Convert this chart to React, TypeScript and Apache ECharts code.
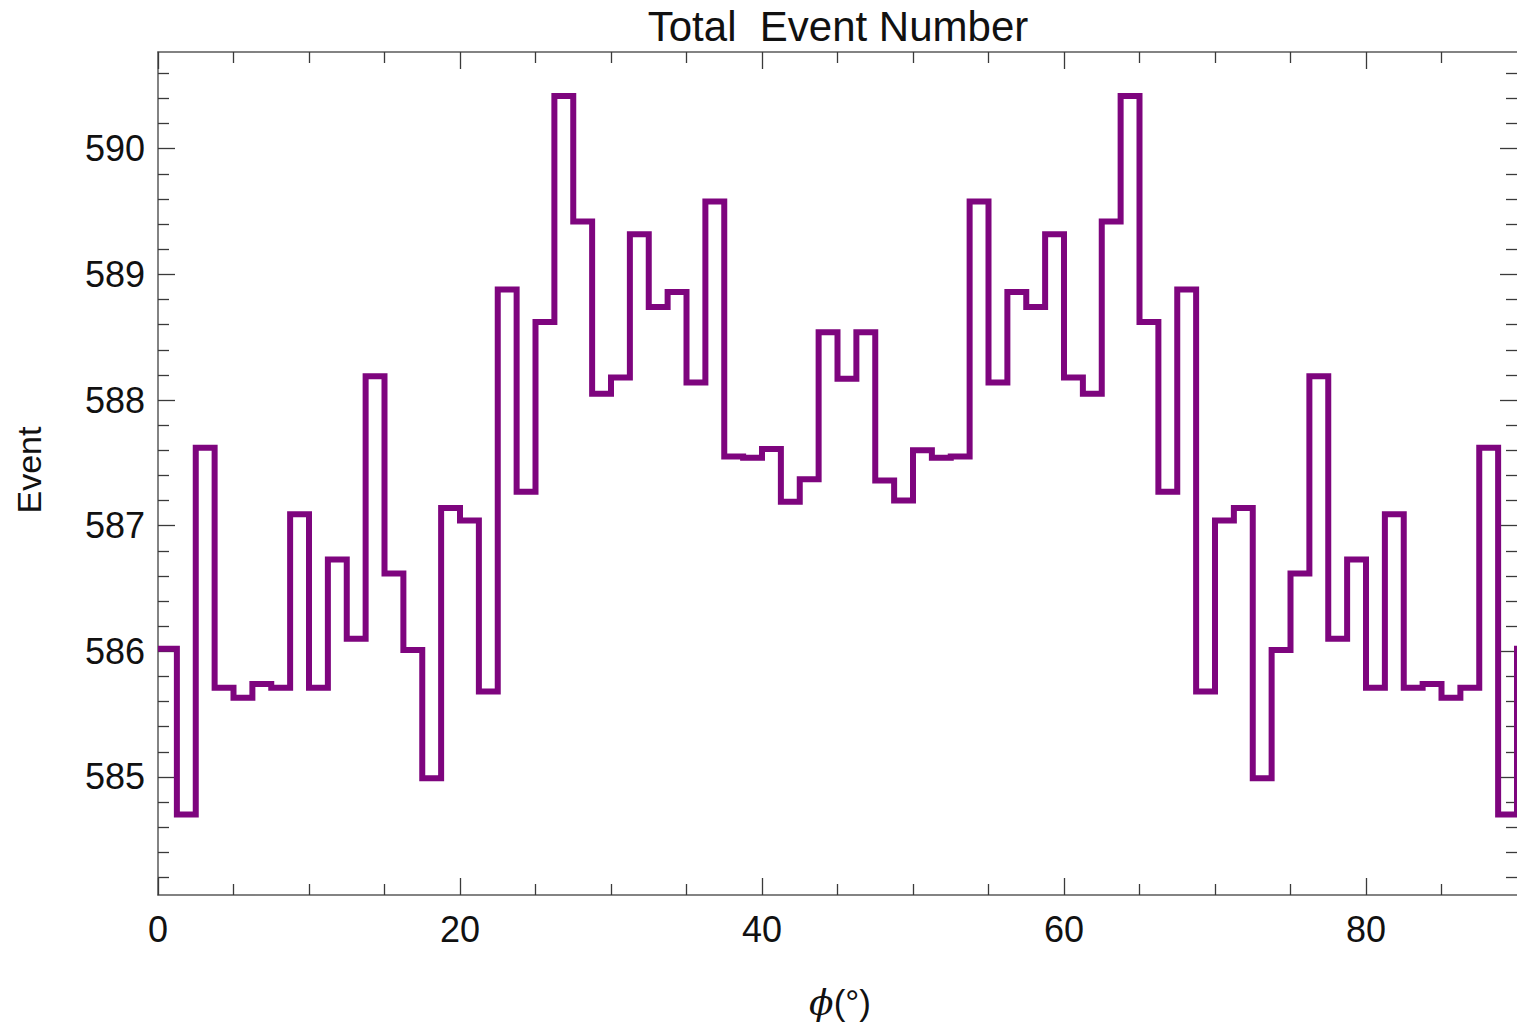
import React, { useEffect, useRef } from "react";
import * as echarts from "echarts";

// Histogram of event counts per phi bin (bin width 1.25 deg, starting at 0)
const binWidth = 1.25;
const binValues = [
  586.02, 584.70, 587.62, 585.71, 585.63, 585.74, 585.71, 587.09, 585.71, 586.73,
  586.10, 588.19, 586.62, 586.01, 584.99, 587.14, 587.04, 585.68, 588.88, 587.27,
  588.62, 590.42, 589.42, 588.05, 588.18, 589.32, 588.74, 588.86, 588.14, 589.58,
  587.55, 587.54, 587.61, 587.19, 587.37, 588.54, 588.17, 588.54, 587.36, 587.20,
  587.60, 587.54, 587.55, 589.58, 588.14, 588.86, 588.74, 589.32, 588.18, 588.05,
  589.42, 590.42, 588.62, 587.27, 588.88, 585.68, 587.04, 587.14, 584.99, 586.01,
  586.62, 588.19, 586.10, 586.73, 585.71, 587.09, 585.71, 585.74, 585.63, 585.71,
  587.62, 584.70,
  // next bin beyond the plot range (clipped, only its rising edge at 90 shows)
  586.02,
];

const xMajorTicks = [0, 20, 40, 60, 80];
const xMinorTicks = [5, 10, 15, 25, 30, 35, 45, 50, 55, 65, 70, 75, 85];
const yMajorTicks = [585, 586, 587, 588, 589, 590];
const yMinorTicks = [
  584.2, 584.4, 584.6, 584.8, 585.2, 585.4, 585.6, 585.8, 586.2, 586.4, 586.6, 586.8,
  587.2, 587.4, 587.6, 587.8, 588.2, 588.4, 588.6, 588.8, 589.2, 589.4, 589.6, 589.8,
  590.2, 590.4, 590.6,
];

const xRange = [0, 90];
const yRange = [584.06, 590.77];

const titleText = "Total  Event Number";
const yTitle = "Event";

const FONT = "'Liberation Sans', Arial, sans-serif";
const PURPLE = "#7e057e";
const FRAME = "#5a5a5a";
const TICK = "#3a3a3a";

function buildStepPoints(): number[][] {
  const pts: number[][] = [];
  binValues.forEach((v, i) => {
    pts.push([i * binWidth, v]);
    pts.push([(i + 1) * binWidth, v]);
  });
  return pts;
}

export default function App() {
  const ref = useRef<HTMLDivElement>(null);

  useEffect(() => {
    if (!ref.current) return;
    const chart = echarts.init(ref.current, null, { renderer: "svg" });

    const xBase = (position: "bottom" | "top", major: boolean, showLabel: boolean, showLine: boolean) => ({
      type: "value" as const,
      position,
      min: xRange[0],
      max: xRange[1],
      axisLine: { show: showLine, onZero: false, lineStyle: { color: FRAME, width: 1.5 } },
      axisTick: {
        show: true,
        inside: true,
        length: major ? 17 : 11,
        customValues: major ? xMajorTicks : xMinorTicks,
        lineStyle: { color: TICK, width: 1.3 },
      },
      axisLabel: {
        show: showLabel,
        customValues: xMajorTicks,
        fontFamily: FONT,
        fontSize: 36,
        color: "#111",
        margin: 16,
      },
      splitLine: { show: false },
    });

    const yBase = (position: "left" | "right", major: boolean, showLabel: boolean, showLine: boolean) => ({
      type: "value" as const,
      position,
      min: yRange[0],
      max: yRange[1],
      axisLine: { show: showLine, onZero: false, lineStyle: { color: FRAME, width: 1.5 } },
      axisTick: {
        show: true,
        inside: true,
        length: major ? 17 : 11,
        customValues: major ? yMajorTicks : yMinorTicks,
        lineStyle: { color: TICK, width: 1.3 },
      },
      axisLabel: {
        show: showLabel,
        customValues: yMajorTicks,
        fontFamily: FONT,
        fontSize: 36,
        color: "#111",
        margin: 13,
      },
      splitLine: { show: false },
    });

    chart.setOption({
      animation: false,
      backgroundColor: "#ffffff",
      grid: { left: 158, top: 52, right: 0, bottom: 135, containLabel: false },
      xAxis: [
        xBase("bottom", true, true, true),
        xBase("bottom", false, false, false),
        xBase("top", true, false, true),
        xBase("top", false, false, false),
      ],
      yAxis: [
        yBase("left", true, true, true),
        yBase("left", false, false, false),
        yBase("right", true, false, false),
        yBase("right", false, false, false),
      ],
      series: [
        {
          type: "line",
          xAxisIndex: 0,
          yAxisIndex: 0,
          data: buildStepPoints(),
          showSymbol: false,
          symbol: "none",
          clip: true,
          lineStyle: { color: PURPLE, width: 6, join: "miter", cap: "butt" },
        },
      ],
      graphic: [
        {
          type: "text",
          x: 838,
          y: 26,
          style: {
            text: titleText,
            font: `42px ${FONT}`,
            fill: "#111",
            align: "center",
            verticalAlign: "middle",
          },
        },
        {
          type: "text",
          x: 29,
          y: 470,
          rotation: Math.PI / 2,
          style: {
            text: yTitle,
            font: `34px ${FONT}`,
            fill: "#111",
            align: "center",
            verticalAlign: "middle",
          },
        },
        {
          type: "text",
          x: 840,
          y: 1002,
          style: {
            text: "{i|ϕ}(°)",
            fill: "#111",
            align: "center",
            verticalAlign: "middle",
            font: `35px ${FONT}`,
            rich: {
              i: { fontStyle: "italic", fontFamily: "'DejaVu Serif', serif", fontSize: 36, fill: "#111" },
            },
          },
        },
      ],
    });

    return () => chart.dispose();
  }, []);

  return (
    <div
      ref={ref}
      style={{ position: "fixed", left: 0, top: 0, width: 1517, height: 1030, background: "#fff" }}
    />
  );
}
